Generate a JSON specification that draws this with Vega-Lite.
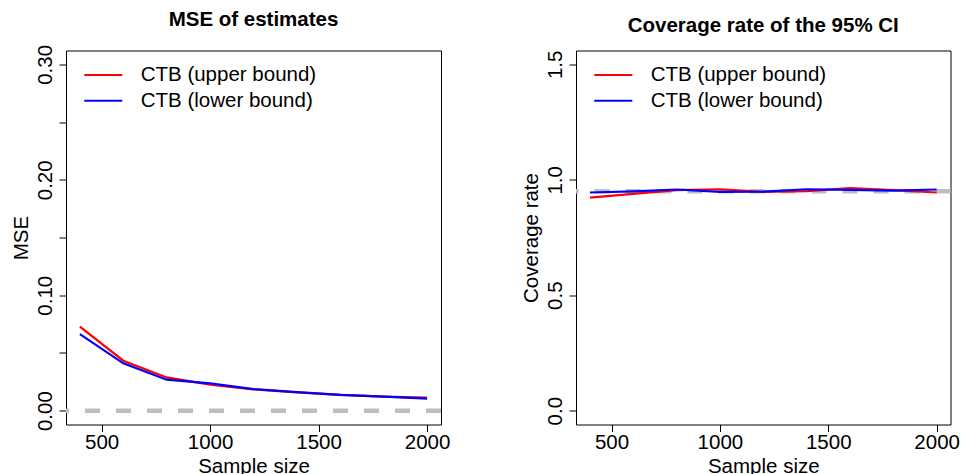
{
  "$schema": "https://vega.github.io/schema/vega-lite/v6.json",
  "padding": {"left": 10, "top": 8.5, "right": 5, "bottom": 0},
  "background": "white",
  "datasets": {
    "mse": [
      {"n": 400, "series": "CTB (upper bound)", "value": 0.0727},
      {"n": 600, "series": "CTB (upper bound)", "value": 0.0433},
      {"n": 800, "series": "CTB (upper bound)", "value": 0.0288},
      {"n": 1000, "series": "CTB (upper bound)", "value": 0.0225},
      {"n": 1200, "series": "CTB (upper bound)", "value": 0.0185},
      {"n": 1400, "series": "CTB (upper bound)", "value": 0.0158},
      {"n": 1600, "series": "CTB (upper bound)", "value": 0.0136},
      {"n": 1800, "series": "CTB (upper bound)", "value": 0.0121},
      {"n": 2000, "series": "CTB (upper bound)", "value": 0.0112},
      {"n": 400, "series": "CTB (lower bound)", "value": 0.0663},
      {"n": 600, "series": "CTB (lower bound)", "value": 0.041},
      {"n": 800, "series": "CTB (lower bound)", "value": 0.0268},
      {"n": 1000, "series": "CTB (lower bound)", "value": 0.0236},
      {"n": 1200, "series": "CTB (lower bound)", "value": 0.0187},
      {"n": 1400, "series": "CTB (lower bound)", "value": 0.016},
      {"n": 1600, "series": "CTB (lower bound)", "value": 0.0136},
      {"n": 1800, "series": "CTB (lower bound)", "value": 0.0121},
      {"n": 2000, "series": "CTB (lower bound)", "value": 0.0104}
    ],
    "cov": [
      {"n": 400, "series": "CTB (upper bound)", "value": 0.923},
      {"n": 600, "series": "CTB (upper bound)", "value": 0.939},
      {"n": 800, "series": "CTB (upper bound)", "value": 0.955},
      {"n": 1000, "series": "CTB (upper bound)", "value": 0.959},
      {"n": 1200, "series": "CTB (upper bound)", "value": 0.948},
      {"n": 1400, "series": "CTB (upper bound)", "value": 0.951},
      {"n": 1600, "series": "CTB (upper bound)", "value": 0.964},
      {"n": 1800, "series": "CTB (upper bound)", "value": 0.955},
      {"n": 2000, "series": "CTB (upper bound)", "value": 0.945},
      {"n": 400, "series": "CTB (lower bound)", "value": 0.945},
      {"n": 600, "series": "CTB (lower bound)", "value": 0.95},
      {"n": 800, "series": "CTB (lower bound)", "value": 0.958},
      {"n": 1000, "series": "CTB (lower bound)", "value": 0.948},
      {"n": 1200, "series": "CTB (lower bound)", "value": 0.949},
      {"n": 1400, "series": "CTB (lower bound)", "value": 0.959},
      {"n": 1600, "series": "CTB (lower bound)", "value": 0.956},
      {"n": 1800, "series": "CTB (lower bound)", "value": 0.953},
      {"n": 2000, "series": "CTB (lower bound)", "value": 0.958}
    ],
    "ref_mse": [{"ref": 0}],
    "ref_cov": [{"ref": 0.95}]
  },
  "spacing": 135,
  "bounds": "flush",
  "hconcat": [
    {
      "width": 375,
      "height": 374,
      "title": {"text": "MSE of estimates"},
      "layer": [
        {
          "data": {"name": "ref_mse"},
          "mark": {"type": "rule", "color": "#BEBEBE", "strokeWidth": 4.5, "strokeDash": [15, 16], "strokeCap": "butt"},
          "encoding": {"y": {"field": "ref", "type": "quantitative", "scale": {"domain": [-0.012, 0.312], "nice": false, "zero": false}}}
        },
        {
          "data": {"name": "mse"},
          "mark": {"type": "line", "strokeWidth": 2.2},
          "encoding": {
            "x": {"field": "n", "type": "quantitative", "title": "Sample size",
                  "scale": {"domain": [336, 2064], "nice": false, "zero": false},
                  "axis": {"values": [500, 1000, 1500, 2000], "format": "d"}},
            "y": {"field": "value", "type": "quantitative", "title": "MSE",
                  "scale": {"domain": [-0.012, 0.312], "nice": false, "zero": false},
                  "axis": {"values": [0, 0.05, 0.1, 0.15, 0.2, 0.25, 0.3], "format": ".2f",
                           "labelExpr": "indexof(['0.00','0.10','0.20','0.30'], datum.label) >= 0 ? datum.label : ''"}},
            "color": {"field": "series", "type": "nominal",
                      "scale": {"domain": ["CTB (upper bound)", "CTB (lower bound)"], "range": ["#FF0000", "#0000FF"]},
                      "legend": {"title": null}}
          }
        }
      ]
    },
    {
      "width": 374.5,
      "height": 374,
      "title": {"text": "Coverage rate of the 95% CI"},
      "layer": [
        {
          "data": {"name": "ref_cov"},
          "mark": {"type": "rule", "color": "#BEBEBE", "strokeWidth": 4.5, "strokeDash": [15, 16], "strokeCap": "butt"},
          "encoding": {"y": {"field": "ref", "type": "quantitative", "scale": {"domain": [-0.06, 1.56], "nice": false, "zero": false}}}
        },
        {
          "data": {"name": "cov"},
          "mark": {"type": "line", "strokeWidth": 2.2},
          "encoding": {
            "x": {"field": "n", "type": "quantitative", "title": "Sample size",
                  "scale": {"domain": [336, 2064], "nice": false, "zero": false},
                  "axis": {"values": [500, 1000, 1500, 2000], "format": "d"}},
            "y": {"field": "value", "type": "quantitative", "title": "Coverage rate",
                  "scale": {"domain": [-0.06, 1.56], "nice": false, "zero": false},
                  "axis": {"values": [0, 0.5, 1, 1.5], "format": ".1f"}},
            "color": {"field": "series", "type": "nominal",
                      "scale": {"domain": ["CTB (upper bound)", "CTB (lower bound)"], "range": ["#FF0000", "#0000FF"]},
                      "legend": {"title": null}}
          }
        }
      ]
    }
  ],
  "resolve": {"scale": {"color": "independent", "x": "independent", "y": "independent"}, "legend": {"color": "independent"}},
  "config": {
    "font": "Liberation Sans",
    "view": {"stroke": "black", "strokeWidth": 1},
    "axis": {
      "domain": false, "grid": false, "tickColor": "black", "tickSize": 7, "tickWidth": 1,
      "labelFont": "Liberation Sans", "labelFontSize": 20.5, "labelColor": "black",
      "titleFont": "Liberation Sans", "titleFontSize": 20.5, "titleFontWeight": "normal", "titleColor": "black",
      "labelOverlap": false, "labelFlush": false
    },
    "axisX": {"labelAngle": 0, "labelAlign": "center", "labelBaseline": "alphabetic", "labelPadding": 17,
              "titleBaseline": "alphabetic", "titleAlign": "center", "titleY": 48.4, "titleAnchor": "middle"},
    "axisY": {"labelAngle": 270, "labelAlign": "center", "labelBaseline": "alphabetic", "labelPadding": 7.5,
              "titleAngle": 270, "titleBaseline": "alphabetic", "titleAlign": "center", "titleX": -39, "titleY": 187},
    "legend": {
      "orient": "none", "legendX": 26.8, "legendY": 14, "direction": "vertical",
      "symbolType": "M-2,0L2,0", "symbolSize": 361, "symbolStrokeWidth": 2,
      "labelFont": "Liberation Sans", "labelFontSize": 20.5, "labelColor": "black", "labelOffset": 26.9,
      "padding": 0, "rowPadding": 4.8, "labelLimit": 400
    },
    "title": {"font": "Liberation Sans", "fontSize": 20.5, "fontWeight": "bold", "color": "black",
              "anchor": "middle", "frame": "group", "baseline": "alphabetic", "offset": 14}
  }
}
